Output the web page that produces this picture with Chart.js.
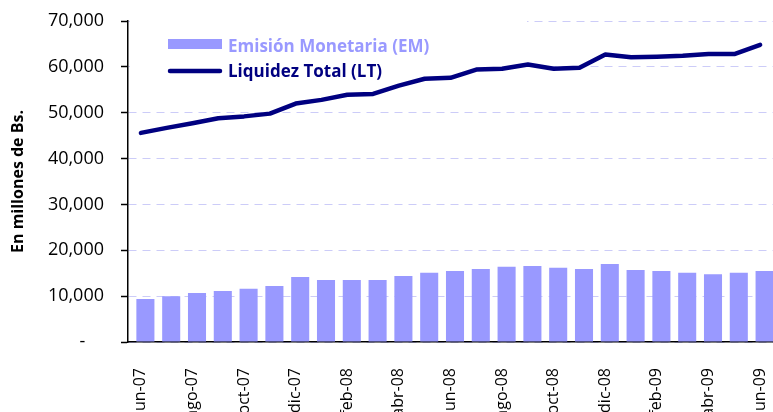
<!DOCTYPE html>
<html>
<head>
<meta charset="utf-8">
<script src="https://cdn.jsdelivr.net/npm/chart.js@4"></script>
<style>
  html, body { margin: 0; padding: 0; background: #fff; }
  #wrap { width: 773px; height: 412px; }
</style>
</head>
<body>
<div id="wrap"><canvas id="emChart" width="773" height="412"></canvas></div>
<script>
const meses = [
  "jun-07", "jul-07", "ago-07", "sep-07", "oct-07", "nov-07", "dic-07",
  "ene-08", "feb-08", "mar-08", "abr-08", "may-08", "jun-08", "jul-08",
  "ago-08", "sep-08", "oct-08", "nov-08", "dic-08", "ene-09", "feb-09",
  "mar-09", "abr-09", "may-09", "jun-09",
];
// millones de Bs.
const emision = [
  9400, 10000, 10700, 11100, 11600, 12200, 14200, 13500, 13500, 13500,
  14400, 15100, 15500, 15900, 16400, 16600, 16200, 15900, 17000, 15700,
  15500, 15100, 14800, 15100, 15500,
];
const liquidez = [
  45600, 46700, 47700, 48800, 49200, 49800, 52000, 52800, 53900, 54100,
  55900, 57400, 57600, 59400, 59600, 60500, 59600, 59800, 62700, 62100,
  62200, 62400, 62800, 62800, 64800,
];
const yTicks = [0, 10000, 20000, 30000, 40000, 50000, 60000, 70000];

const nombreEM = "Emisión Monetaria (EM)";
const nombreLT = "Liquidez Total (LT)";
const colorEM = "#9999ff";
const colorLT = "#000080";
const fuente = "'Open Sans', 'DejaVu Sans', sans-serif";

// bars sit a little right of the category centre in the original
const desplazaBarras = {
  id: "desplazaBarras",
  beforeDatasetDraw(chart, args) {
    if (args.meta.type === "bar") {
      chart.ctx.save();
      chart.ctx.translate(4.5, 0);
    }
  },
  afterDatasetDraw(chart, args) {
    if (args.meta.type === "bar") chart.ctx.restore();
  },
};

const leyenda = {
  id: "leyenda",
  beforeDatasetsDraw(chart) {
    const ctx = chart.ctx;
    ctx.save();
    ctx.fillStyle = "#ffffff";
    ctx.fillRect(130, 12, 397, 64);
    ctx.restore();
  },
  afterDraw(chart) {
    const ctx = chart.ctx;
    ctx.save();
    ctx.fillStyle = colorEM;
    ctx.fillRect(168, 39, 54, 10);
    ctx.strokeStyle = colorLT;
    ctx.lineWidth = 4.5;
    ctx.lineCap = "round";
    ctx.beginPath();
    ctx.moveTo(170, 71);
    ctx.lineTo(220, 71);
    ctx.stroke();
    ctx.font = "bold 17px " + fuente;
    ctx.textBaseline = "alphabetic";
    ctx.fillStyle = colorEM;
    ctx.fillText(nombreEM, 228, 52);
    ctx.fillStyle = colorLT;
    ctx.fillText(nombreLT, 228, 77);
    ctx.restore();
  },
};

function initChart() {
  const ctx = document.getElementById("emChart").getContext("2d");

  new Chart(ctx, {
    type: "bar",
    data: {
      labels: meses,
      datasets: [
        {
          type: "line",
          label: nombreLT,
          data: liquidez,
          borderColor: colorLT,
          borderWidth: 4.5,
          borderCapStyle: "round",
          borderJoinStyle: "round",
          pointRadius: 0,
          tension: 0,
          fill: false,
        },
        {
          label: nombreEM,
          data: emision,
          backgroundColor: colorEM,
          borderWidth: 0,
          categoryPercentage: 1,
          barPercentage: 0.7,
        },
      ],
    },
    options: {
      responsive: false,
      animation: false,
      layout: { padding: { top: 21, right: 0, left: 0, bottom: 0 } },
      plugins: {
        legend: { display: false },
        tooltip: { enabled: false },
      },
      scales: {
        y: {
          min: 0,
          max: 70000,
          afterBuildTicks: (s) => {
            s.ticks = yTicks.map((v) => ({ value: v }));
          },
          afterFit: (s) => {
            s.width = 128;
            s.paddingTop = 0;
            s.paddingBottom = 0;
          },
          ticks: {
            color: "#000",
            padding: 17,
            font: { family: fuente, size: 18 },
            callback: (v) => (v === 0 ? "-    " : v.toLocaleString("en-US")),
          },
          grid: {
            color: "#ccccf8",
            lineWidth: 1,
            tickLength: 7,
            tickColor: "#000",
            tickWidth: 1.5,
            tickBorderDash: [],
          },
          border: { color: "#000", width: 1.5, dash: [8, 6] },
          title: {
            display: true,
            text: "En millones de Bs.",
            color: "#000",
            font: { family: fuente, size: 16, weight: "bold" },
            padding: { top: 9, bottom: 0 },
          },
        },
        x: {
          afterFit: (s) => {
            s.height = 70;
            s.paddingLeft = 0;
            s.paddingRight = 0;
          },
          grid: { display: false },
          border: { color: "#000", width: 1.5 },
          ticks: {
            color: "#000",
            autoSkip: false,
            minRotation: 90,
            maxRotation: 90,
            padding: 18,
            font: { family: fuente, size: 16 },
            callback: (v, i) => (i % 2 === 0 ? meses[i] : ""),
          },
        },
      },
    },
    plugins: [desplazaBarras, leyenda],
  });
}

document.addEventListener("DOMContentLoaded", initChart);
</script>
</body>
</html>
